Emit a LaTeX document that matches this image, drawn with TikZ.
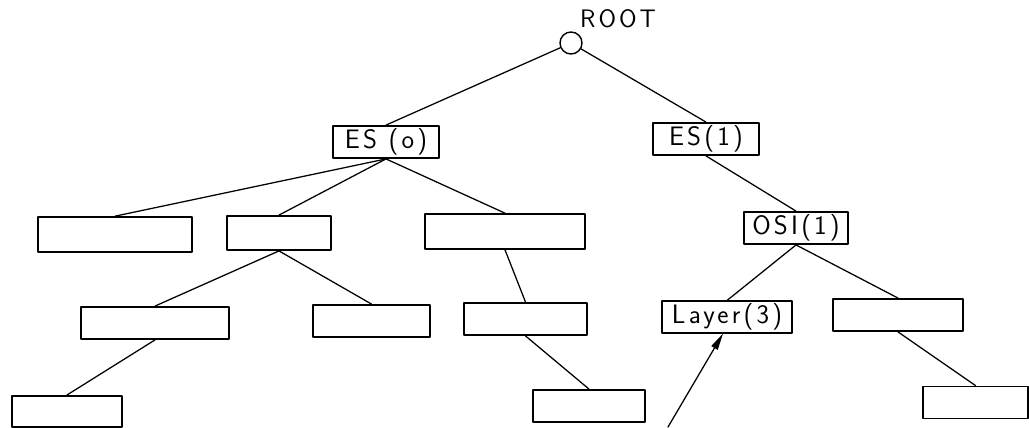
\documentclass[tikz,border=0pt]{standalone}
\usepackage{fontspec}
\usepackage{tikz}
\usetikzlibrary{arrows.meta}
\newfontfamily\plotfont[LetterSpace=12]{Latin Modern Sans}

\tikzset{
	knot/.style={draw,circle,line width=1pt,minimum size=0.55cm,inner sep=0pt},
	field/.style={draw,line width=1.3pt,minimum height=0.8cm,inner sep=0pt,font=\plotfont\fontsize{19}{21}\selectfont},
	link/.style={line width=0.9pt}
}

\begin{document}
\begin{tikzpicture}[line cap=round,line join=round,>={Triangle[length=4.2mm,width=1.8mm]},x=0.025cm,y=-0.025cm]
		\useasboundingbox (0,0) rectangle (1029,427);
		%%%%%%%%%%%%%%% N O D E S %%%%%%%%%%%%%%%%
		%root
		\node [knot] (root) at (571,43) {};
		\node [font=\plotfont\fontsize{18}{20}\selectfont] (rootname) at (618,19) {ROOT};
		%level 1
		\node [field,minimum width=2.63cm] (es0) at (386,142) {ES (o)};
		\node [field,minimum width=2.63cm] (es1) at (706,139) {ES(1)};
		%level 2
		\node [field,minimum width=3.85cm,minimum height=0.87cm] (a) at (115,234.5) {};
		\node [field,minimum width=2.6cm,minimum height=0.85cm] (b) at (279,233) {};
		\node [field,minimum width=4cm,minimum height=0.87cm] (c) at (505,231.5) {};
		\node [field,minimum width=2.58cm] (osi) at (796,228) {OSI(1)};
		%level 3
		\node [field,minimum width=3.7cm] (d) at (155,323) {};
		\node [field,minimum width=2.93cm] (e) at (371.5,321) {};
		\node [field,minimum width=3.08cm] (f) at (525.5,319) {};
		\node [field,minimum width=3.23cm,minimum height=0.78cm] (layer) at (727,317) {Layer(3)};
		\node [field,minimum width=3.25cm] (g) at (898,315) {};
		%level 4
		\node [field,minimum width=2.75cm,minimum height=0.78cm] (h) at (67,411.5) {};
		\node [field,minimum width=2.8cm] (i) at (589,406) {};
		\node [field,minimum width=2.63cm] (j) at (975.5,402.5) {};
		%%%%%%%%%%%%%%% L I N K S %%%%%%%%%%%%%%%%
		\draw [link] (root) -- (es0.north);
		\draw [link] (root) -- (es1.north);
		%es0
		\draw [link] (es0.south) -- (a.north);
		\draw [link] (es0.south) -- (b.north);
		\draw [link] (es0.south) -- (c.north);
		\draw [link] (b.south) -- (d.north);
		\draw [link] (b.south) -- (e.north);
		\draw [link] (c.south) -- (f.north);
		\draw [link] (d.south) -- (h.north);
		\draw [link] (f.south) -- (i.north);
		%es1
		\draw [link] (es1.south) -- (osi.north);
		\draw [link] (osi.south) -- (layer.north);
		\draw [link] (osi.south) -- (g.north);
		\draw [link] (g.south) -- (j.north);
		%pointer
		\coordinate (tail) at (668,427);
		\draw [->,link] (tail) -- ([xshift=-0.1cm]layer.south);
\end{tikzpicture}
\end{document}
